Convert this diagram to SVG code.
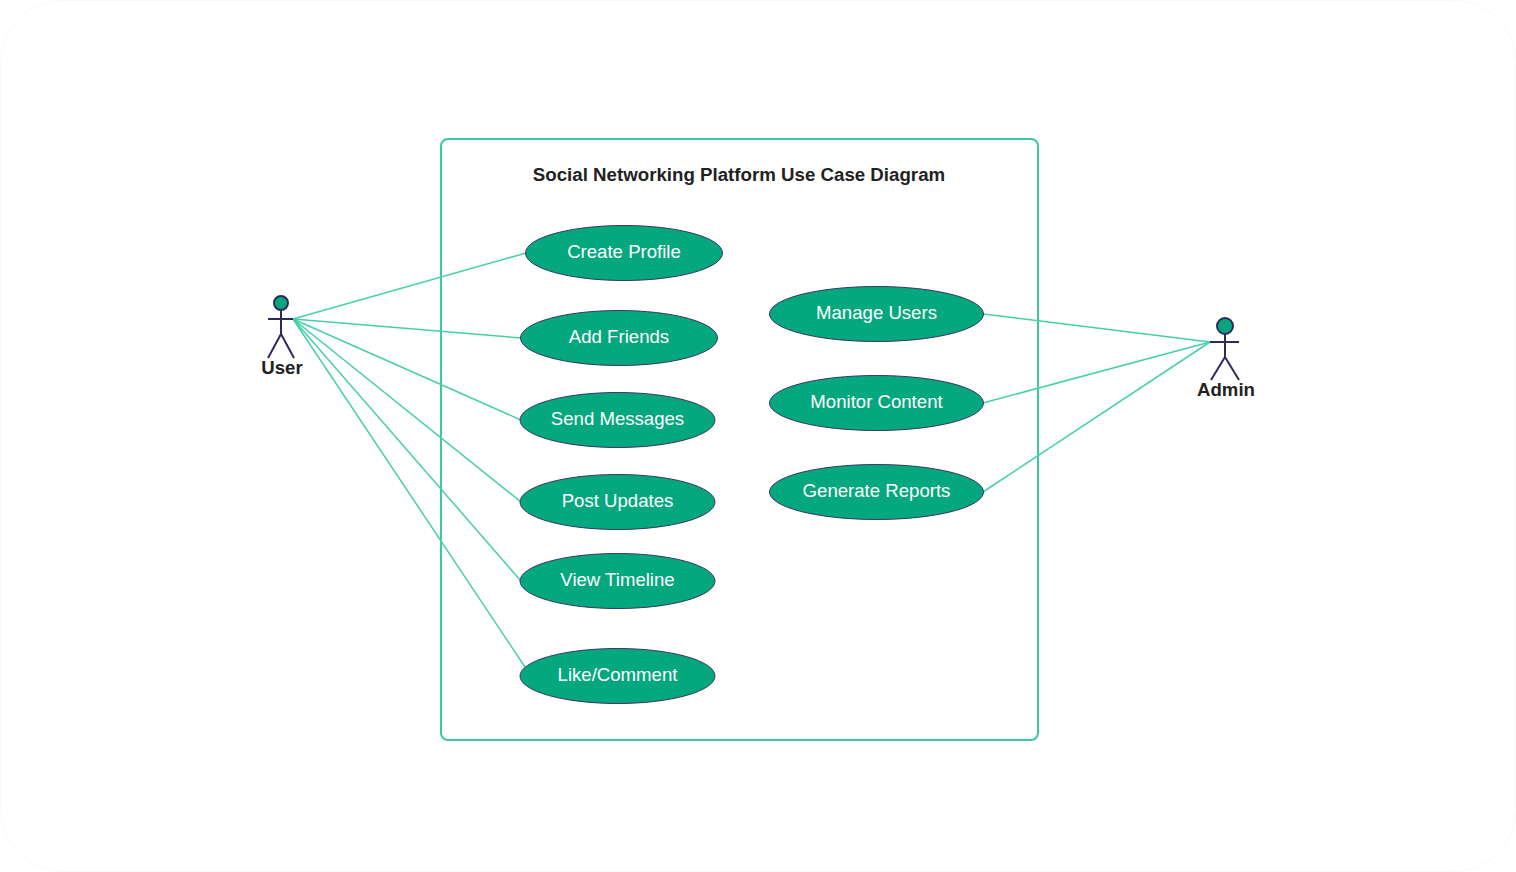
<svg xmlns="http://www.w3.org/2000/svg" width="1516" height="872" viewBox="0 0 1516 872">
<style>
.uc{fill:#05a87e;stroke:#3a3560;stroke-width:1}
.ut{fill:#fff;font:18.600px "Liberation Sans",Arial,sans-serif;text-anchor:middle}
.c{fill:none;stroke:#45d0a8;stroke-width:1.500}
.stick{fill:none;stroke:#2f2a5c;stroke-width:2}
.head{fill:#05a87e;stroke:#2f2a5c;stroke-width:2}
.al{fill:#222;font:bold 18.600px "Liberation Sans",Arial,sans-serif;text-anchor:middle}
</style>
<rect width="1516" height="872" fill="#fff"/>
<rect x="0.500" y="0.500" width="1515" height="871" rx="62" fill="none" stroke="#f8f8f8" stroke-width="1"/>
<rect x="441" y="139" width="597" height="601" rx="7" fill="#fff" stroke="#3cc8a0" stroke-width="2"/>
<text x="739" y="181" fill="#222" text-anchor="middle" style="font:bold 18.700px 'Liberation Sans',Arial,sans-serif">Social Networking Platform Use Case Diagram</text>
<g id="connectors">
<path class="c" d="M293 319L526 253"/>
<path class="c" d="M293 319L521 338"/>
<path class="c" d="M293 319L521 420"/>
<path class="c" d="M293 319L521 502"/>
<path class="c" d="M293 319L521 581"/>
<path class="c" d="M293 319L525 667"/>
<path class="c" d="M1210 342L983 314"/>
<path class="c" d="M1210 342L983 403"/>
<path class="c" d="M1210 342L983 492"/>
</g>
<g id="actor-user">
<circle class="head" cx="281" cy="303" r="7"/>
<path class="stick" d="M281 310V334M268 319H293M281 334L268 358M281 334L294 358"/>
<text class="al" x="282" y="374">User</text>
</g>
<g id="actor-admin">
<circle class="head" cx="1225" cy="326" r="8"/>
<path class="stick" d="M1225 334V357M1210 342H1239M1225 357L1211 380M1225 357L1239 380"/>
<text class="al" x="1226" y="396">Admin</text>
</g>
<g id="uc-create-profile"><ellipse class="uc" cx="624" cy="253" rx="98.500" ry="27.500"/><text class="ut" x="624" y="258">Create Profile</text></g>
<g id="uc-add-friends"><ellipse class="uc" cx="619" cy="338" rx="98.500" ry="27.500"/><text class="ut" x="619" y="343">Add Friends</text></g>
<g id="uc-send-messages"><ellipse class="uc" cx="617.500" cy="420" rx="97.500" ry="27.500"/><text class="ut" x="617.500" y="425">Send Messages</text></g>
<g id="uc-post-updates"><ellipse class="uc" cx="617.500" cy="502" rx="97.500" ry="27.500"/><text class="ut" x="617.500" y="507">Post Updates</text></g>
<g id="uc-view-timeline"><ellipse class="uc" cx="617.500" cy="581" rx="97.500" ry="27.500"/><text class="ut" x="617.500" y="586">View Timeline</text></g>
<g id="uc-like-comment"><ellipse class="uc" cx="617.500" cy="676" rx="97.500" ry="27.500"/><text class="ut" x="617.500" y="681">Like/Comment</text></g>
<g id="uc-manage-users"><ellipse class="uc" cx="876.500" cy="314" rx="107" ry="27.500"/><text class="ut" x="876.500" y="319">Manage Users</text></g>
<g id="uc-monitor-content"><ellipse class="uc" cx="876.500" cy="403" rx="107" ry="27.500"/><text class="ut" x="876.500" y="408">Monitor Content</text></g>
<g id="uc-generate-reports"><ellipse class="uc" cx="876.500" cy="492" rx="107" ry="27.500"/><text class="ut" x="876.500" y="497">Generate Reports</text></g>
</svg>
